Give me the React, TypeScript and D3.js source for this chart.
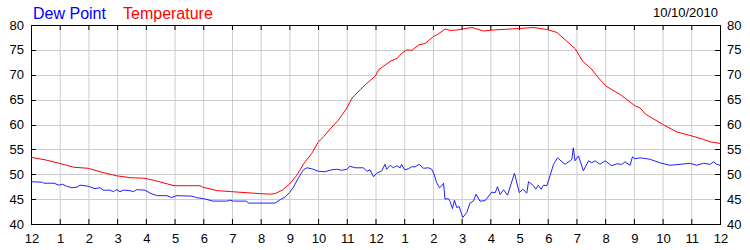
import React from "react";
import * as d3 from "d3";

const xTickLabels = ["12", "1", "2", "3", "4", "5", "6", "7", "8", "9", "10", "11", "12", "1", "2", "3", "4", "5", "6", "7", "8", "9", "10", "11", "12"];
const yTicks = [40, 45, 50, 55, 60, 65, 70, 75, 80];
const dateLabel = "10/10/2010";
const seriesNames = ["Dew Point", "Temperature"];

const tempTimes = [0, 0.49, 0.98, 1.5, 1.99, 2.47, 2.97, 3.47, 3.97, 4.47, 4.98, 5.48, 5.89, 5.98, 6.48, 6.99, 7.49, 7.99, 8.33, 8.5, 8.75, 9.0, 9.26, 9.51, 9.78, 10.0, 10.2, 10.42, 10.71, 11.0, 11.18, 11.47, 11.7, 11.99, 12.11, 12.51, 12.75, 12.95, 13.09, 13.27, 13.5, 13.73, 14.02, 14.14, 14.43, 14.6, 14.84, 15.36, 15.76, 16.11, 17.04, 17.51, 17.97, 18.32, 18.67, 18.96, 19.22, 19.5, 19.75, 20.03, 20.53, 21.03, 21.22, 21.4, 22.01, 22.5, 23.02, 23.43, 23.66, 24.0];
const tempValues = [53.4, 52.9, 52.2, 51.4, 51.2, 50.4, 49.7, 49.3, 49.2, 48.5, 47.7, 47.7, 47.7, 47.4, 46.7, 46.5, 46.3, 46.1, 46.0, 46.1, 46.8, 48.0, 49.8, 52.2, 54.2, 56.4, 57.6, 59.1, 60.9, 63.3, 65.3, 67.0, 68.3, 69.7, 71.0, 72.7, 73.3, 74.5, 75.0, 74.9, 76.0, 76.3, 77.7, 78.0, 79.2, 78.9, 79.0, 79.5, 78.8, 79.0, 79.3, 79.5, 79.1, 78.5, 76.7, 75.2, 72.7, 71.3, 69.5, 67.7, 66.0, 63.8, 63.3, 62.1, 60.0, 58.5, 57.7, 57.0, 56.5, 56.2];

const dewTimes = [0, 0.4, 0.45, 0.8, 0.98, 1.1, 1.24, 1.42, 1.6, 1.71, 1.99, 2.23, 2.4, 2.52, 2.75, 2.87, 2.97, 3.1, 3.22, 3.45, 3.57, 3.68, 3.97, 4.15, 4.38, 4.73, 4.9, 5.08, 5.6, 5.77, 6.0, 6.35, 6.82, 6.93, 7.05, 7.51, 7.57, 8.5, 8.68, 8.85, 9.0, 9.14, 9.31, 9.49, 9.61, 9.78, 10.01, 10.24, 10.48, 10.65, 10.82, 11.0, 11.11, 11.29, 11.58, 11.7, 11.81, 11.93, 12.04, 12.22, 12.33, 12.39, 12.51, 12.62, 12.74, 12.86, 12.91, 13.01, 13.15, 13.26, 13.38, 13.52, 13.67, 13.84, 13.96, 14.04, 14.13, 14.23, 14.31, 14.37, 14.42, 14.54, 14.6, 14.68, 14.75, 14.83, 14.92, 14.97, 15.04, 15.18, 15.29, 15.41, 15.5, 15.64, 15.82, 16.05, 16.17, 16.25, 16.34, 16.46, 16.6, 16.84, 17.01, 17.13, 17.27, 17.33, 17.5, 17.58, 17.67, 17.77, 17.85, 17.97, 18.08, 18.2, 18.34, 18.6, 18.78, 18.84, 18.89, 18.95, 19.07, 19.24, 19.42, 19.53, 19.65, 19.82, 20.0, 20.23, 20.4, 20.58, 20.69, 20.87, 20.95, 21.04, 21.22, 21.57, 21.91, 22.26, 22.61, 22.96, 23.19, 23.42, 23.66, 23.77, 23.89, 24.0];
const dewValues = [48.5, 48.4, 48.2, 48.2, 47.8, 48.0, 47.6, 47.3, 47.4, 47.8, 47.6, 47.1, 47.3, 46.8, 46.8, 46.5, 46.9, 46.5, 46.8, 46.7, 46.5, 46.9, 46.8, 46.2, 45.7, 45.7, 45.3, 45.7, 45.6, 45.3, 45.1, 44.6, 44.6, 44.8, 44.6, 44.6, 44.2, 44.2, 44.9, 45.4, 46.3, 47.4, 49.2, 50.9, 51.3, 51.1, 50.6, 50.5, 50.9, 51.0, 50.8, 51.0, 51.6, 51.3, 51.3, 50.6, 50.9, 49.5, 50.2, 50.7, 52.0, 51.0, 51.8, 51.3, 51.7, 51.3, 52.0, 50.9, 51.1, 51.5, 51.5, 52.0, 51.2, 51.3, 51.0, 50.0, 48.3, 47.3, 47.7, 48.2, 45.0, 45.1, 44.5, 43.1, 44.8, 43.3, 43.5, 42.5, 41.3, 42.3, 44.2, 44.6, 46.0, 44.6, 44.7, 46.4, 46.3, 47.5, 45.9, 46.9, 45.8, 50.2, 46.3, 47.0, 46.2, 48.5, 47.7, 47.0, 47.8, 47.0, 47.8, 47.7, 49.7, 52.0, 53.3, 52.0, 52.7, 53.0, 55.3, 52.7, 53.7, 50.7, 52.7, 52.3, 52.7, 52.0, 52.7, 51.7, 52.1, 52.0, 52.5, 51.8, 53.5, 53.1, 53.3, 53.0, 52.3, 51.8, 52.0, 52.2, 51.8, 52.2, 52.0, 52.5, 52.0, 51.8];

const W = 750;
const H = 250;
const left = 31;
const right = 720;
const top = 25;
const bottom = 224;
const font = "'Liberation Sans', Arial, sans-serif";

export default function App() {
  const x = d3.scaleLinear().domain([0, 24]).range([left, right]);
  const y = d3.scaleLinear().domain([40, 80]).range([bottom, top]);
  const hours = d3.range(0, 25);

  const line = d3
    .line<[number, number]>()
    .x((d) => x(d[0]))
    .y((d) => y(d[1]));

  const tempPts: [number, number][] = tempTimes.map((t, i) => [t, tempValues[i]]);
  const dewPts: [number, number][] = dewTimes.map((t, i) => [t, dewValues[i]]);

  return (
    <div style={{ position: "absolute", left: 0, top: 0 }}>
      <svg width={W} height={H} style={{ display: "block", background: "#fff" }}>
        <rect x={0} y={0} width={W} height={H} fill="#fff" />
        {hours.slice(1, -1).map((h) => (
          <line key={"vg" + h} x1={x(h) + 0.5} x2={x(h) + 0.5} y1={top} y2={bottom} stroke="#cccccc" strokeWidth={1} />
        ))}
        {yTicks.slice(1, -1).map((v) => (
          <line key={"hg" + v} x1={left} x2={right} y1={Math.round(y(v)) + 0.5} y2={Math.round(y(v)) + 0.5} stroke="#cccccc" strokeWidth={1} />
        ))}
        {hours.map((h) => (
          <g key={"tk" + h}>
            <line x1={x(h) + 0.5} x2={x(h) + 0.5} y1={top} y2={top + 5} stroke="#000" />
            <line x1={x(h) + 0.5} x2={x(h) + 0.5} y1={bottom - 5} y2={bottom} stroke="#000" />
          </g>
        ))}
        {yTicks.map((v) => (
          <g key={"ytk" + v}>
            <line x1={left} x2={left + 5} y1={Math.round(y(v)) + 0.5} y2={Math.round(y(v)) + 0.5} stroke="#000" />
            <line x1={right - 5} x2={right} y1={Math.round(y(v)) + 0.5} y2={Math.round(y(v)) + 0.5} stroke="#000" />
          </g>
        ))}
        <rect x={left + 0.5} y={top + 0.5} width={right - left} height={bottom - top} fill="none" stroke="#000" strokeWidth={1} />
        <path d={line(dewPts) || ""} fill="none" stroke="#2020ff" strokeWidth={1} />
        <path d={line(tempPts) || ""} fill="none" stroke="#ff0000" strokeWidth={1} />
        {yTicks.map((v) => (
          <g key={"yl" + v} fontFamily={font} fontSize={13} fill="#000">
            <text x={left - 7} y={y(v)} textAnchor="end" dominantBaseline="central">{v}</text>
            <text x={right + 7} y={y(v)} textAnchor="start" dominantBaseline="central">{v}</text>
          </g>
        ))}
        {xTickLabels.map((lab, i) => (
          <text key={"xl" + i} x={x(i) + 1} y={243} textAnchor="middle" fontFamily={font} fontSize={13} fill="#000">{lab}</text>
        ))}
        <text x={33} y={19} fontFamily={font} fontSize={16} fill="#0000ff">{seriesNames[0]}</text>
        <text x={123} y={19} fontFamily={font} fontSize={16} fill="#ff0000">{seriesNames[1]}</text>
        <text x={718} y={17} textAnchor="end" fontFamily={font} fontSize={13} fill="#000">{dateLabel}</text>
      </svg>
    </div>
  );
}
